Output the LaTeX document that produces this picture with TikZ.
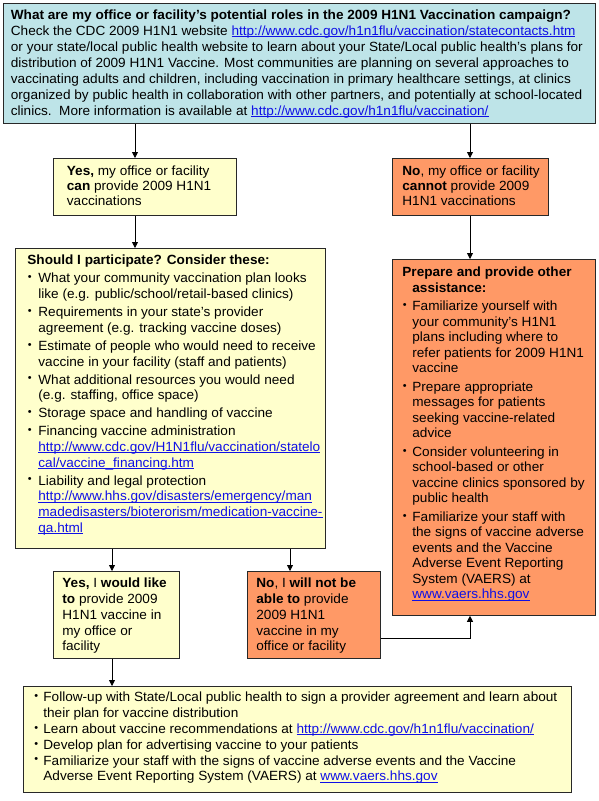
\documentclass[tikz,border=0pt]{standalone}
\usepackage{fontspec}
\setmainfont{Liberation Sans}[FakeStretch=1.02]
\usetikzlibrary{arrows.meta,shadows}
\definecolor{tealfill}{RGB}{190,228,232}
\definecolor{yelfill}{RGB}{255,255,204}
\definecolor{orfill}{RGB}{255,153,102}
\definecolor{linkblue}{RGB}{16,16,230}
\definecolor{edgecol}{RGB}{40,40,40}
\newcommand\lnk[1]{{\color{linkblue}\setbox0\hbox{#1}\rlap{\rule[-1.6pt]{\wd0}{0.7pt}}\box0}}
\newcommand\nl{\newline}
\newlength\bind
\newlength\boff
\newcommand\bitem[1]{\hangindent=\bind\hangafter=1\noindent\makebox[\bind][l]{\hskip\boff\raisebox{0.3ex}{\scalebox{0.8}{\textbullet}}}#1\par}
% w h padx firstbaseline baselineskip parskip content
\newcommand\boxtext[7]{\vbox to #2pt{\vskip\dimexpr#4pt-10pt\relax\hbox{\hskip#3pt\parbox[t]{\dimexpr#1pt-#3pt\relax}{\fontsize{13.33}{#5}\selectfont\raggedright\parindent=0pt\parskip=#6pt\rule{0pt}{10pt}#7}}\vss}}
\begin{document}
\begin{tikzpicture}[x=1pt,y=-1pt,
  bx/.style={draw=edgecol, line width=0.8pt, inner sep=0pt, anchor=north west,
    drop shadow={shadow xshift=1pt, shadow yshift=-1pt, fill=black!40, opacity=1}},
  arr/.style={draw=black, line width=0.8pt, -{Triangle[length=6pt,width=6pt]}}]
\useasboundingbox (0,0) rectangle (598,801);
\coordinate (a1) at (135,0);
\coordinate (a2) at (470,0);
\coordinate (a3) at (112,0);
\coordinate (a4) at (290,0);
\coordinate (c5) at (470,638);

\node[bx, fill=tealfill] (top) at (3,3) {\boxtext{592}{120}{7.5}{15.6}{16}{0}{%
\textbf{What are my office or facility’s potential roles in the 2009 H1N1 Vaccination campaign?}\nl
Check the CDC 2009 H1N1 website \lnk{http://www.cdc.gov/h1n1flu/vaccination/statecontacts.htm}\nl
or your state/local public health website to learn about your State/Local public health’s plans for\nl
distribution of 2009 H1N1 Vaccine. Most communities are planning on several approaches to\nl
vaccinating adults and children, including vaccination in primary healthcare settings, at clinics\nl
organized by public health in collaboration with other partners, and potentially at school-located\nl
clinics.\ \ More information is available at \lnk{http://www.cdc.gov/h1n1flu/vaccination/}}};

\node[bx, fill=yelfill] (yes) at (53,158) {\boxtext{183}{57}{13.5}{17.5}{15}{0}{%
\textbf{Yes,} my office or facility\nl
\textbf{can} provide 2009 H1N1\nl
vaccinations}};

\node[bx, fill=orfill] (no) at (392,158) {\boxtext{156}{57}{10}{17.5}{15}{0}{%
\textbf{No}, my office or facility\nl
\textbf{cannot} provide 2009\nl
H1N1 vaccinations}};

\node[bx, fill=yelfill] (lb) at (15,248) {\boxtext{310}{300}{12}{16.5}{15.7}{2.3}{%
\setlength\bind{11pt}\setlength\boff{0.5pt}%
\textbf{Should I participate? Consider these:}\par
\bitem{What your community vaccination plan looks\nl like (e.g. public/school/retail-based clinics)}
\bitem{Requirements in your state's provider\nl agreement (e.g. tracking vaccine doses)}
\bitem{Estimate of people who would need to receive\nl vaccine in your facility (staff and patients)}
\bitem{What additional resources you would need\nl (e.g. staffing, office space)}
\bitem{Storage space and handling of vaccine}
\bitem{Financing vaccine administration\nl \lnk{http://www.cdc.gov/H1N1flu/vaccination/statelo}\nl \lnk{cal/vaccine\_financing.htm}}
\bitem{Liability and legal protection\nl \lnk{http://www.hhs.gov/disasters/emergency/man}\nl \lnk{madedisasters/bioterorism/medication-vaccine-}\nl \lnk{qa.html}}}};

\node[bx, fill=orfill] (rb) at (392,259) {\boxtext{203}{356}{10}{17.5}{15.5}{3}{%
\setlength\bind{10pt}\setlength\boff{0.5pt}%
\hangindent=\bind\hangafter=1\textbf{Prepare and provide other\nl assistance:}\par
\bitem{Familiarize yourself with\nl your community's H1N1\nl plans including where to\nl refer patients for 2009 H1N1\nl vaccine}
\bitem{Prepare appropriate\nl messages for patients\nl seeking vaccine-related\nl advice}
\bitem{Consider volunteering in\nl school-based or other\nl vaccine clinics sponsored by\nl public health}
\bitem{Familiarize your staff with\nl the signs of vaccine adverse\nl events and the Vaccine\nl Adverse Event Reporting\nl System (VAERS) at\nl \lnk{www.vaers.hhs.gov}}}};

\node[bx, fill=yelfill] (yes2) at (53,571) {\boxtext{126}{87}{9}{16.5}{15.75}{0}{%
\textbf{Yes,} I \textbf{would like}\nl
\textbf{to} provide 2009\nl
H1N1 vaccine in\nl
my office or\nl
facility}};

\node[bx, fill=orfill] (no2) at (247,571) {\boxtext{133}{87}{9}{16.5}{15.75}{0}{%
\textbf{No}, I \textbf{will not be}\nl
\textbf{able to} provide\nl
2009 H1N1\nl
vaccine in my\nl
office or facility}};

\node[bx, fill=yelfill] (fin) at (23,686) {\boxtext{548}{106}{11}{15.5}{15.8}{0}{%
\setlength\bind{9pt}\setlength\boff{0pt}%
\bitem{Follow-up with State/Local public health to sign a provider agreement and learn about\nl their plan for vaccine distribution}
\bitem{Learn about vaccine recommendations at \lnk{http://www.cdc.gov/h1n1flu/vaccination/}}
\bitem{Develop plan for advertising vaccine to your patients}
\bitem{Familiarize your staff with the signs of vaccine adverse events and the Vaccine\nl Adverse Event Reporting System (VAERS) at \lnk{www.vaers.hhs.gov}}}};

\draw[arr] (top.south -| a1) -- (yes.north -| a1);
\draw[arr] (yes.south -| a1) -- (lb.north -| a1);
\draw[arr] (top.south -| a2) -- (no.north -| a2);
\draw[arr] (no.south -| a2) -- (rb.north -| a2);
\draw[arr] (lb.south -| a3) -- (yes2.north -| a3);
\draw[arr] (lb.south -| a4) -- (no2.north -| a4);
\draw[arr] (yes2.south -| a3) -- (fin.north -| a3);
\draw[arr] (no2.east |- c5) -| (rb.south -| c5);
\end{tikzpicture}
\end{document}
